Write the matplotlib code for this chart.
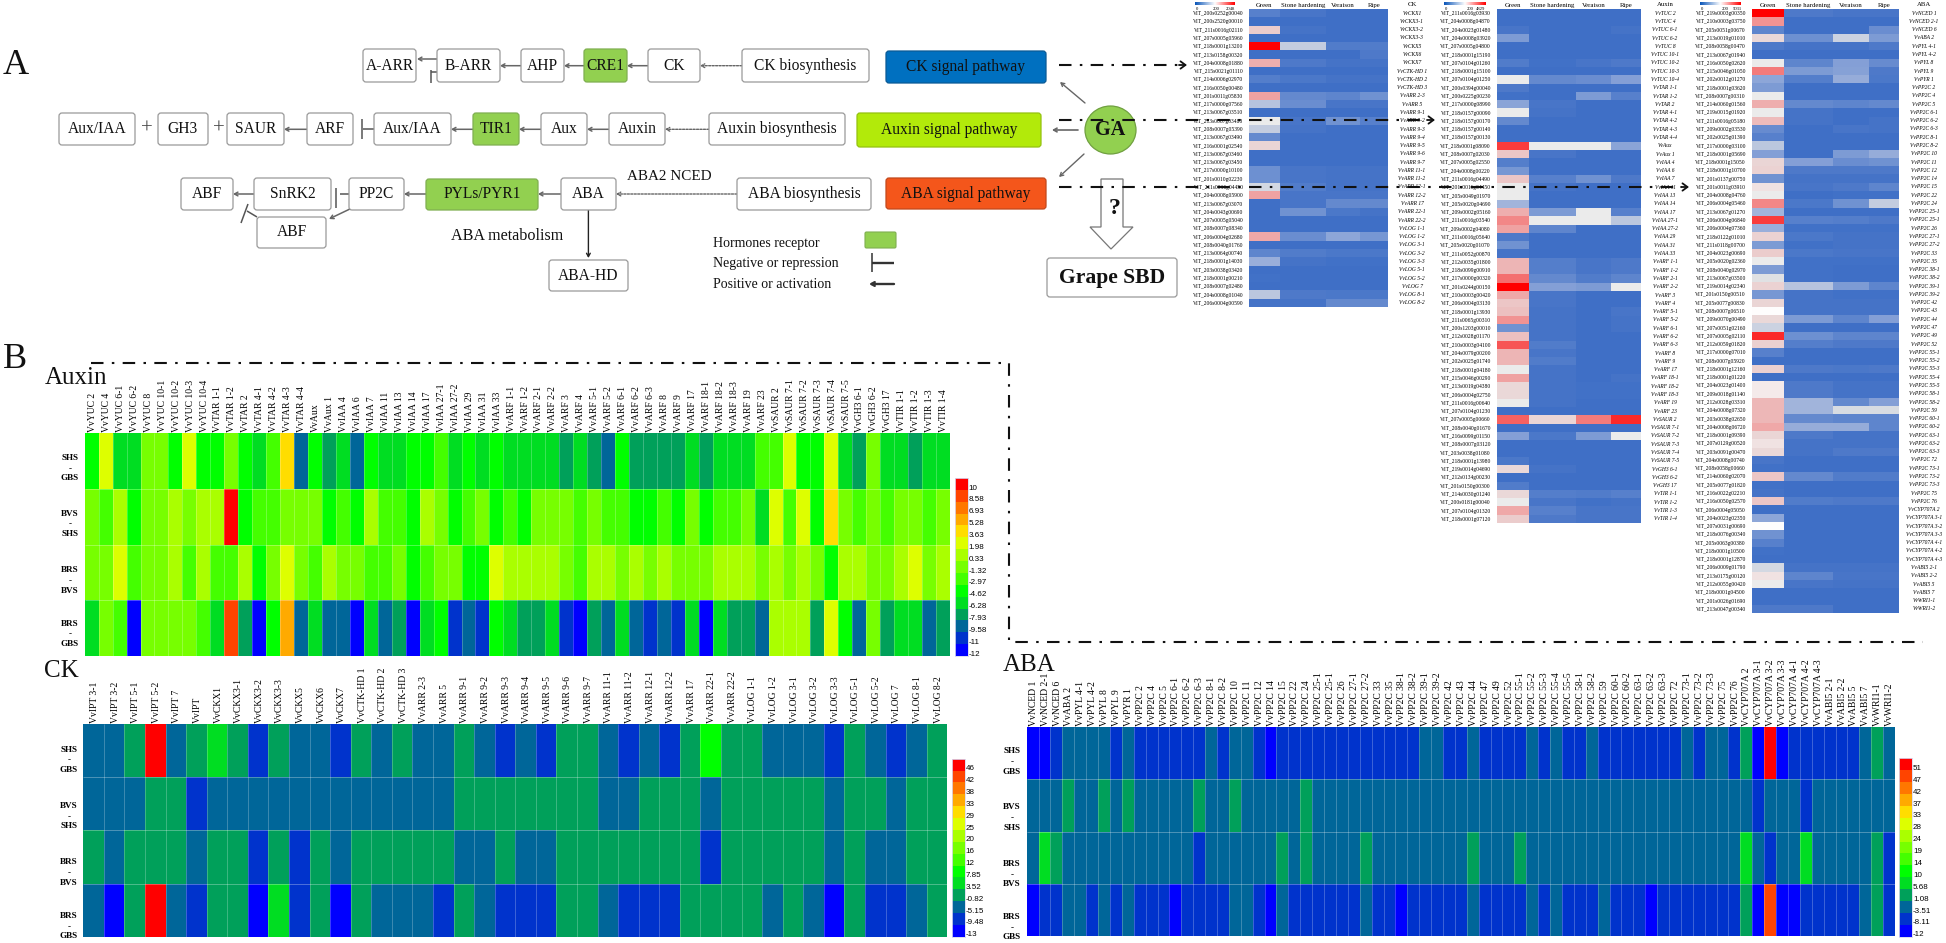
import numpy as np
import matplotlib
matplotlib.use("Agg")
import matplotlib.pyplot as plt
from matplotlib.colors import ListedColormap, LinearSegmentedColormap
from matplotlib.patches import FancyBboxPatch, Ellipse, Polygon

W, H = 1946, 943
plt.rcParams['font.family'] = ['Liberation Serif', 'DejaVu Serif']

# ------------------------- DATA: bottom heat maps (colour-key level 0..14) --------------------
comparisons = [("SHS", "GBS"), ("BVS", "SHS"), ("BRS", "BVS"), ("BRS", "GBS")]

auxin_genes = ["VvYUC 2","VvYUC 4","VvYUC 6-1","VvYUC 6-2","VvYUC 8","VvYUC 10-1","VvYUC 10-2","VvYUC 10-3","VvYUC 10-4",
 "VvTAR 1-1","VvTAR 1-2","VvTAR 2","VvTAR 4-1","VvTAR 4-2","VvTAR 4-3","VvTAR 4-4","VvAux","VvAux 1",
 "VvIAA 4","VvIAA 6","VvIAA 7","VvIAA 11","VvIAA 13","VvIAA 14","VvIAA 17","VvIAA 27-1","VvIAA 27-2","VvIAA 29","VvIAA 31","VvIAA 33",
 "VvARF 1-1","VvARF 1-2","VvARF 2-1","VvARF 2-2","VvARF 3","VvARF 4","VvARF 5-1","VvARF 5-2","VvARF 6-1","VvARF 6-2","VvARF 6-3","VvARF 8","VvARF 9","VvARF 17","VvARF 18-1","VvARF 18-2","VvARF 18-3","VvARF 19","VvARF 23",
 "VvSAUR 2","VvSAUR 7-1","VvSAUR 7-2","VvSAUR 7-3","VvSAUR 7-4","VvSAUR 7-5","VvGH3 6-1","VvGH3 6-2","VvGH3 17","VvTIR 1-1","VvTIR 1-2","VvTIR 1-3","VvTIR 1-4"]
auxin_shs_gbs = [5,9,4,4,7,7,5,9,5,5,7,5,4,6,10,2,5,3,4,2,5,4,4,5,5,6,4,5,4,5,4,4,4,4,3,4,3,2,5,3,3,3,3,4,3,4,4,4,6,6,9,5,5,9,4,3,7,4,4,3,4,4]
auxin_bvs_shs = [7,6,8,5,7,7,8,7,8,8,14,5,6,6,7,7,7,5,6,5,8,6,6,5,8,7,5,6,7,5,6,5,7,7,7,6,7,6,6,5,5,6,5,7,5,6,6,7,4,9,6,9,5,10,7,6,7,6,7,7,6,7]
auxin_brs_bvs = [7,7,9,6,7,7,8,6,8,6,6,8,5,7,9,7,6,8,7,7,6,6,7,5,6,7,7,5,5,9,8,8,8,8,7,6,8,8,7,8,7,8,7,7,7,8,8,8,7,8,7,8,7,5,8,8,7,7,8,9,7,8]
auxin_brs_gbs = [4,7,6,0,7,7,7,7,6,4,13,3,0,5,11,2,4,2,2,0,4,2,3,0,4,5,1,2,1,5,4,3,3,4,1,0,3,2,4,2,1,2,1,4,0,4,3,3,2,8,8,8,3,9,5,2,7,3,4,4,2,3]
auxin_key = ["10","8.58","6.93","5.28","3.63","1.98","0.33","-1.32","-2.97","-4.62","-6.28","-7.93","-9.58","-11","-12"]

ck_genes = ["VvIPT 3-1","VvIPT 3-2","VvIPT 5-1","VvIPT 5-2","VvIPT 7","VvIPT","VvCKX1","VvCKX3-1","VvCKX3-2","VvCKX3-3","VvCKX5","VvCKX6","VvCKX7",
 "VvCTK-HD 1","VvCTK-HD 2","VvCTK-HD 3","VvARR 2-3","VvARR 5","VvARR 9-1","VvARR 9-2","VvARR 9-3","VvARR 9-4","VvARR 9-5","VvARR 9-6","VvARR 9-7",
 "VvARR 11-1","VvARR 11-2","VvARR 12-1","VvARR 12-2","VvARR 17","VvARR 22-1","VvARR 22-2","VvLOG 1-1","VvLOG 1-2","VvLOG 3-1","VvLOG 3-2","VvLOG 3-3","VvLOG 5-1","VvLOG 5-2","VvLOG 7","VvLOG 8-1","VvLOG 8-2"]
ck_shs_gbs = [2,2,3,14,2,3,4,3,1,3,2,2,1,3,2,3,2,2,3,2,1,2,1,3,3,2,1,2,1,3,5,3,3,2,2,2,1,3,2,1,2,3]
ck_bvs_shs = [2,2,2,3,3,1,2,2,2,2,2,2,2,2,2,2,2,2,3,3,3,3,3,3,3,2,2,3,3,3,2,3,3,3,3,3,2,3,3,2,3,3]
ck_brs_bvs = [3,2,3,3,3,2,3,3,1,3,1,3,2,3,3,3,3,3,2,2,3,2,2,3,3,3,3,3,3,3,1,3,3,3,3,3,2,3,2,2,3,3]
ck_brs_gbs = [2,0,3,14,2,1,3,3,0,4,1,3,0,3,2,2,2,1,3,2,1,1,1,3,3,2,1,1,1,3,3,3,3,2,3,2,0,3,1,1,2,3]
ck_key = ["46","42","38","33","29","25","20","16","12","7.85","3.52","-0.82","-5.15","-9.48","-13"]

aba_genes = ["VvNCED 1","VvNCED 2-1","VvNCED 6","VvABA 2","VvPYL 4-1","VvPYL 4-2","VvPYL 8","VvPYL 9","VvPYR 1",
 "VvPP2C 2","VvPP2C 4","VvPP2C 5","VvPP2C 6-1","VvPP2C 6-2","VvPP2C 6-3","VvPP2C 8-1","VvPP2C 8-2","VvPP2C 10","VvPP2C 11","VvPP2C 12","VvPP2C 14","VvPP2C 15","VvPP2C 22","VvPP2C 24","VvPP2C 25-1","VvPP2C 25-1","VvPP2C 26","VvPP2C 27-1","VvPP2C 27-2","VvPP2C 33","VvPP2C 35","VvPP2C 38-1","VvPP2C 38-2","VvPP2C 39-1","VvPP2C 39-2","VvPP2C 42","VvPP2C 43","VvPP2C 44","VvPP2C 47","VvPP2C 49","VvPP2C 52","VvPP2C 55-1","VvPP2C 55-2","VvPP2C 55-3","VvPP2C 55-4","VvPP2C 55-5","VvPP2C 58-1","VvPP2C 58-2","VvPP2C 59","VvPP2C 60-1","VvPP2C 60-2","VvPP2C 63-1","VvPP2C 63-2","VvPP2C 63-3","VvPP2C 72","VvPP2C 73-1","VvPP2C 73-2","VvPP2C 73-3","VvPP2C 75","VvPP2C 76",
 "VvCYP707A 2","VvCYP707A 3-1","VvCYP707A 3-2","VvCYP707A 3-3","VvCYP707A 4-1","VvCYP707A 4-2","VvCYP707A 4-3","VvABI5 2-1","VvABI5 2-2","VvABI5 5","VvABI5 7","VvWRI1-1","VvWRI1-2"]
aba_shs_gbs = [0,0,1,2,2,2,2,1,2,1,1,1,1,1,1,2,1,2,2,1,0,1,1,1,1,1,1,1,1,1,1,1,1,2,2,1,1,2,1,1,1,1,2,1,2,1,1,2,1,1,1,1,1,1,1,2,1,2,2,1,3,0,14,0,1,1,1,1,1,1,2,3,2]
aba_bvs_shs = [2,2,2,3,2,2,3,2,3,2,2,2,2,2,3,2,2,3,2,2,2,2,2,3,2,2,2,2,2,2,2,2,2,2,2,2,2,2,2,2,2,2,2,2,2,2,2,2,2,2,2,2,2,2,2,2,2,2,2,2,2,1,2,2,2,1,2,2,2,2,2,2,2]
aba_brs_bvs = [2,4,3,2,2,2,2,2,2,2,2,2,2,2,1,2,2,2,2,2,2,3,2,3,2,2,2,2,3,2,2,2,2,2,2,2,2,3,2,2,2,3,2,2,2,2,2,2,2,2,2,2,2,2,2,2,2,2,2,2,4,2,1,2,2,4,2,2,2,2,2,3,1]
aba_brs_gbs = [0,1,1,2,2,1,2,1,2,1,1,1,0,1,1,1,1,2,2,1,0,2,1,1,1,1,1,1,2,1,1,0,1,1,1,1,1,2,1,1,1,1,2,1,2,1,1,1,2,1,1,1,0,1,1,1,1,1,1,1,3,0,13,0,0,1,1,1,1,1,2,3,1]
aba_key = ["51","47","42","37","33","28","24","19","14","10","5.68","1.08","-3.51","-8.11","-12"]

key_colors = ["#0000FF","#0033CC","#006699","#00A05A","#00DD22","#00FF00","#44FF00","#77FF00","#AAFF00","#DDFF00","#FFDD00","#FFAA00","#FF7700","#FF4400","#FF0000"]

# ------------------------- DATA: upper right FPKM heat maps (0..1 position on blue-white-red) ---
stages = ["Green", "Stone hardening", "Veraison", "Ripe"]

ck_ids = ["200s0252g00040","200s2520g00010","211s0016g02110","207s0005g05960","218s0001g13200","213s0158g00320","204s0008g01880","215s0021g01110","214s0006g02970","216s0050g00480","201s0011g05830","217s0000g07560","213s0067g03510","213s0067g03480","208s0007g05390","213s0067g03490","216s0001g02540","213s0067g03460","213s0067g03450","217s0000g10100","201s0010g02230","211s0016g04450","204s0008g05900","213s0067g03070","204s0043g00690","207s0005g05040","208s0007g08340","206s0004g02680","208s0040g01760","213s0064g00740","218s0001g14030","203s0038g03420","218s0001g00210","208s0007g02480","204s0008g01040","206s0004g00590"]
ck_green = [.08,0,.58,0,1.0,0,.68,0,.07,0,.72,.35,0,.47,.38,.12,.55,0,0,.15,.15,.42,.72,0,0,0,0,.7,0,.1,.28,0,.01,0,.36,.02]
ck_stone = [.03,0,.02,0,.38,0,.05,0,.04,0,.12,.14,0,.03,.02,0,0,0,0,.03,.03,.06,.03,.03,.16,0,0,.14,0,.06,.02,0,0,0,.05,.02]
ck_verai = [0,0,0,0,.06,0,.02,0,.02,0,.1,.03,0,.16,0,0,0,0,0,.02,.02,.02,.03,.12,.04,0,0,.25,0,.04,.01,0,0,0,.04,.12]
ck_ripe  = [0,0,0,0,.06,.05,.02,0,.02,0,.16,.03,0,.08,0,0,0,0,0,.02,.02,.02,.03,.12,.02,0,0,.18,0,.04,.01,0,0,0,.04,.12]
ck_names = ck_genes[6:]

aux_ids = ["211s0016g03930","204s0008g04870","204s0023g01480","204s0008g03920","207s0005g04800","218s0001g15190","207s0104g01260","218s0001g15100","207s0104g01250","200s0394g00040","200s0225g00230","217s0000g08990","218s0157g00090","218s0157g00170","218s0157g00140","218s0157g00130","218s0001g08090","208s0007g02030","207s0005g02550","204s0008g00220","211s0016g04490","201s0011g04450","205s0049g01970","205s0020g04690","209s0002g05160","211s0016g03540","209s0002g04080","211s0016g05640","205s0020g01070","211s0052g00870","212s0035g01800","218s0099g00910","217s0000g00320","201s0244g00150","210s0003g00420","206s0004g03130","218s0001g13930","211s0065g00310","200s1203g00010","212s0028g01170","210s0003g04100","204s0079g00200","202s0025g01740","218s0001g04180","215s0046g00290","213s0019g04380","206s0004g02750","211s0016g00640","207s0104g01230","207s0005g00660","208s0040g01670","216s0099g01150","208s0007g03120","203s0038g01080","218s0001g13980","219s0014g04690","212s0134g00230","201s0150g00300","214s0030g01240","200s0181g00040","207s0104g01320","218s0001g07120"]
aux_green = [0,0,.03,.2,0,0,.06,0,.47,.05,.01,.24,.47,.12,0,0,.9,.6,.07,.18,.6,.47,.47,.3,.68,.78,.72,.05,.16,.02,.66,.66,.82,1.0,.7,.6,.62,.76,.16,.62,.86,.66,.66,.47,.72,.54,.54,.47,0,.84,0,.22,0,0,.04,.54,0,.06,.54,.47,.7,.58]
aux_stone = [0,0,0,0,0,0,.01,0,.12,0,0,.03,.02,0,0,0,.47,.03,0,0,.08,.02,0,0,.2,.47,.1,0,0,0,.07,.07,.12,.22,.03,.03,.02,.02,.02,.02,.06,.03,.06,.02,.02,.02,.02,.02,0,.55,0,.04,0,0,0,.02,0,0,.07,.03,.08,.05]
aux_verai = [0,0,0,0,0,0,.03,0,.14,0,.2,0,0,0,0,0,.47,0,0,0,.16,0,0,0,.47,.47,0,0,0,0,.03,.03,.06,.2,0,0,0,0,0,0,0,0,0,0,0,.01,.01,0,0,.8,0,.2,0,0,0,0,0,0,.06,.01,.03,.03]
aux_ripe  = [0,0,.02,0,0,0,.05,0,.22,0,.08,0,0,0,0,0,.24,0,0,0,.05,0,0,0,.08,.36,0,0,0,0,.05,.05,.1,.47,0,0,.03,.02,.02,0,0,0,0,0,.02,.01,.01,0,0,.93,0,.47,0,0,0,0,0,0,.08,.02,.03,.03]
aux_names = [g.replace("YUC", "TUC") for g in auxin_genes]

aba_ids = ["219s0003g00350","210s0003g03750","205s0051g00670","213s0019g01010","208s0058g00470","213s0067g01940","216s0050g02620","215s0046g01050","202s0012g01270","218s0001g03620","208s0007g00310","214s0060g01560","219s0015g01920","211s0016g05180","209s0002g03530","202s0025g01390","217s0000g03100","218s0001g05690","218s0001g15050","218s0001g10700","201s0137g00750","201s0011g03910","204s0008g04760","206s0004g05460","213s0067g01270","206s0004g06840","206s0004g07360","218s0122g01010","211s0118g00700","204s0023g00690","205s0020g02360","208s0040g02970","213s0067g03500","219s0014g02340","201s0150g00510","205s0077g00830","208s0007g06510","209s0070g00490","207s0051g02160","207s0005g02110","212s0059g01820","217s0000g07010","208s0007g05920","218s0001g12160","218s0001g01220","204s0023g01400","209s0018g01140","212s0028g03310","204s0008g07320","203s0038g02650","204s0008g06720","218s0001g09390","207s0129g00520","203s0091g00470","204s0008g00740","208s0058g00660","214s0060g02070","205s0077g01820","216s0022g02210","216s0050g02570","206s0004g05050","204s0023g02350","207s0031g00690","218s0076g00340","205s0063g00380","218s0001g10500","218s0001g12870","206s0009g01790","213s0175g00120","212s0055g00420","218s0001g04500","201s0026g01690","213s0047g00340"]
aba_green = [1.0,.76,.1,.54,.05,0,.47,.8,.25,.2,.47,.68,.47,.64,.13,.08,.36,.22,.55,.56,.16,.53,.47,.78,.3,.9,.28,.56,.2,.58,.47,.2,.45,.56,.18,.55,.5,.54,.4,.93,.57,.08,0,.57,0,.52,.52,.65,.65,.65,.7,.55,.53,.54,.03,.01,.6,.01,.02,.6,0,.25,.5,.16,.08,.01,0,.42,.53,.47,0,0,.05]
aba_stone = [.05,0,0,.15,.02,0,.1,.2,.07,0,0,.12,.02,.02,0,0,0,0,.22,.05,.02,.03,0,.04,0,.08,.01,.04,.01,.04,.01,.01,.01,.35,.02,.02,.02,.2,0,.15,.07,0,0,.05,0,.05,.05,.3,.3,.12,.27,.05,.02,.02,0,0,.12,0,0,.06,0,0,0,0,0,0,0,.02,.1,.03,0,0,.05]
aba_verai = [.03,0,0,.4,.02,0,.22,.23,.27,0,0,.1,0,0,.03,0,0,.2,.14,.05,.02,.05,.01,.16,0,.07,.01,.02,.02,.03,.01,0,0,.2,.01,.02,.02,.1,0,.1,.05,0,0,.04,0,.02,.02,.12,.43,.1,.27,.02,.02,.05,0,0,.06,0,0,.05,0,0,0,0,0,0,0,.02,.03,.02,0,0,0]
aba_ripe  = [.03,0,.14,.2,.05,0,.13,.05,.04,0,0,.12,0,.02,.02,0,0,.27,.16,.05,.02,.1,.01,.38,0,.05,.01,.02,.02,.03,.01,0,0,.1,.01,.02,.02,.22,0,.1,.05,0,0,.05,0,.02,.02,.22,.43,.1,.1,.02,.02,.05,0,0,.06,0,0,.05,0,0,0,0,0,0,0,.02,.03,.02,0,0,0]
aba_names = aba_genes

fpkm_scale_ck, fpkm_scale_aux, fpkm_scale_aba = ["0","200","2048"], ["0","200","4829"], ["0","200","5031"]

# ------------------------- helpers ------------------------------------------------------------
fig = plt.figure(figsize=(W/100, H/100), dpi=100, facecolor="white")

def px_axes(x0, y0, x1, y1, **kw):
    return fig.add_axes([x0/W, 1-y1/H, (x1-x0)/W, (y1-y0)/H], **kw)

level_cmap = ListedColormap(key_colors)
fpkm_cmap = LinearSegmentedColormap.from_list("fpkm", [(0, "#3F6FC6"), (.25, "#8DA6D8"), (.46, "#E4E4E4"), (.5, "#FFFFFF"),
                                                       (.54, "#EAD8D8"), (.75, "#F09A9A"), (1, "#FF0000")])
SERIF = "Liberation Serif"

def level_heat(box, rows, genes, key, keybox, lab_x, lab_ys, fs=6.9):
    ax = px_axes(*box)
    data = np.array(rows)
    ax.pcolormesh(data, cmap=level_cmap, vmin=-.5, vmax=14.5)
    ax.set_xlim(0, data.shape[1]); ax.set_ylim(data.shape[0], 0)
    ax.vlines(np.arange(1, data.shape[1]), 0, data.shape[0], color="white", alpha=.28, lw=.6)
    ax.hlines(np.arange(1, data.shape[0]), 0, data.shape[1], color="white", alpha=.35, lw=.6)
    ax.xaxis.tick_top()
    ax.set_xticks(np.arange(data.shape[1]) + .55, genes, rotation=90, fontsize=fs, family=SERIF, color="black", va="bottom", ha="center")
    ax.set_yticks([])
    ax.tick_params(length=0, pad=.6)
    for s in ax.spines.values():
        s.set_visible(False)
    k = px_axes(*keybox)
    levels = np.arange(15)[::-1].reshape(-1, 1)
    k.pcolormesh(levels, cmap=level_cmap, vmin=-.5, vmax=14.5)
    k.set_ylim(15, 0); k.set_xlim(0, 1)
    k.set_xticks([])
    k.yaxis.tick_right()
    k.set_yticks(np.arange(15) + .76, key, fontsize=5.8, family="Liberation Sans", color="black")
    k.tick_params(length=0, pad=.5)
    for s in k.spines.values():
        s.set_color("#D8D8F0"); s.set_linewidth(.6)
    for (a, b), (y0, y1, y2) in zip(comparisons, lab_ys):
        for y, t in ((y0, a), (y1, "-"), (y2, b)):
            ov.text(lab_x, y, t, fontsize=6.6, fontweight="bold", ha="center", va="center", color="black")

def fpkm_heat(edges, y0, y1, cols, ids, names, names_x, title, bar, bar_labels, bar_label_x):
    ax = px_axes(edges[0], y0, edges[-1], y1)
    data = np.array(cols).T
    ax.pcolormesh(np.array(edges), np.arange(data.shape[0] + 1), data, cmap=fpkm_cmap, vmin=0, vmax=1)
    ax.set_ylim(data.shape[0], 0)
    ax.xaxis.tick_top()
    ax.set_xticks((np.array(edges[:-1]) + np.array(edges[1:])) / 2, stages, fontsize=4.9, family=SERIF, color="black")
    ax.set_yticks(np.arange(data.shape[0]) + .5, ["VIT_" + i for i in ids], fontsize=4.0, family=SERIF, color="black")
    ax.tick_params(length=0, pad=.5, axis="x")
    ax.tick_params(length=0, pad=4, axis="y")
    for s in ax.spines.values():
        s.set_visible(False)
    for i, n in enumerate(names):
        ov.text(names_x, y0 + (i + .5) * (y1 - y0) / data.shape[0], n, fontsize=4.0, style="italic", ha="center", va="center", color="black")
    ov.text(names_x, 5, title, fontsize=4.9, ha="center", va="center", color="black")
    c = px_axes(*bar)
    c.imshow(np.linspace(0, 1, 128).reshape(1, -1), cmap=LinearSegmentedColormap.from_list("b", ["#0A55B8", "#FFFFFF", "#FF0000"]), aspect="auto")
    c.axis("off")
    for x, t in zip(bar_label_x, bar_labels):
        ov.text(x, 9, t, fontsize=3.4, ha="center", va="center", color="black")

def box(x0, y0, x1, y1, text="", fc="white", ec="#9A9A9A", fs=11.2, lw=.9, **kw):
    ov.add_patch(FancyBboxPatch((x0 + 2, y0 + 2), x1 - x0 - 4, y1 - y0 - 4, boxstyle="round,pad=2,rounding_size=3", fc=fc, ec=ec, lw=lw, zorder=3))
    ov.text((x0 + x1) / 2, (y0 + y1) / 2, text, fontsize=fs, ha="center", va="center", color="#111111", zorder=4, **kw)

def arrow(x0, y0, x1, y1, color="#666666", lw=1.1, ls="-", ms=6):
    ov.annotate("", xy=(x1, y1), xytext=(x0, y0), zorder=2,
                arrowprops=dict(arrowstyle="->,head_length=.25,head_width=.14", color=color, lw=lw, ls=ls, shrinkA=0, shrinkB=0, mutation_scale=ms*1.6))

def seg(xs, ys, color="#555555", lw=1.1, **kw):
    ov.plot(xs, ys, color=color, lw=lw, solid_capstyle="butt", zorder=2, **kw)

# overlay in pixel coordinates, on top of all heat maps
ov = fig.add_axes([0, 0, 1, 1], zorder=10, facecolor="none")
ov.set_xlim(0, W); ov.set_ylim(H, 0); ov.axis("off")

# ------------------------- panel B ------------------------------------------------------------
level_heat((84.7, 433.3, 950, 655.7), [auxin_shs_gbs, auxin_bvs_shs, auxin_brs_bvs, auxin_brs_gbs], auxin_genes, auxin_key,
           (955, 478, 967.7, 656), 70, [(457.7, 468.7, 478), (513.7, 524, 534), (570, 581, 591), (623.7, 634, 644)])
level_heat((83.3, 724, 947.3, 936.7), [ck_shs_gbs, ck_bvs_shs, ck_brs_bvs, ck_brs_gbs], ck_genes, ck_key,
           (952, 758.7, 965, 936.7), 69, [(749.7, 760.3, 770), (805.7, 816.7, 826.3), (862.3, 873.3, 882.7), (915.7, 926.7, 936)])
level_heat((1026.7, 727.3, 1895, 936), [aba_shs_gbs, aba_bvs_shs, aba_brs_bvs, aba_brs_gbs], aba_genes, aba_key,
           (1899.3, 758.3, 1912.3, 936.7), 1012, [(751, 761.7, 771.7), (807, 818, 827.7), (863.7, 874.7, 884), (917, 927.7, 937.3)])

ov.text(45, 378, "Auxin", fontsize=18, ha="left", va="center", color="#111111")
ov.text(44, 671, "CK", fontsize=18, ha="left", va="center", color="#111111")
ov.text(1003, 665, "ABA", fontsize=18, ha="left", va="center", color="#111111")
ov.text(3, 65, "A", fontsize=26, ha="left", va="center", color="#111111")
ov.text(3, 360, "B", fontsize=26, ha="left", va="center", color="#111111")

dd = dict(color="#111111", lw=1.5, ls=(0, (6, 4, 1.2, 4)), zorder=6)
ov.plot([91, 1009, 1009, 1923], [363, 363, 641.7, 641.7], **dd)

# ------------------------- upper right heat maps ----------------------------------------------
fpkm_heat([1249, 1280, 1326, 1360, 1388], 9, 307, [ck_green, ck_stone, ck_verai, ck_ripe], ck_ids, ck_names, 1412, "CK",
          (1195, 2.3, 1235, 5.3), fpkm_scale_ck, (1197, 1216, 1230))
fpkm_heat([1496.5, 1528.6, 1576, 1611, 1641], 9, 523, [aux_green, aux_stone, aux_verai, aux_ripe], aux_ids, aux_names, 1665, "Auxin",
          (1443.5, 2.3, 1485, 5.3), fpkm_scale_aux, (1446, 1470, 1481))
fpkm_heat([1751.5, 1784, 1833, 1868.6, 1899], 9, 613, [aba_green, aba_stone, aba_verai, aba_ripe], aba_ids, aba_names, 1924, "ABA",
          (1700, 2.3, 1741, 5.3), fpkm_scale_aba, (1702, 1725, 1737))

# ------------------------- panel A pathway ----------------------------------------------------
g = "#92D050"
box(363, 49, 416, 82, "A-ARR"); box(437, 49, 500, 82, "B-ARR"); box(521, 49, 564, 82, "AHP"); box(584, 49, 627, 82, "CRE1", fc=g, ec="#7FAF50")
box(648, 49, 700, 82, "CK"); box(742, 49, 869, 82, "CK biosynthesis")
box(886, 51, 1046, 83, "CK signal pathway", fc="#0070C0", ec="#0A5A96")
box(59, 113, 135, 145, "Aux/IAA"); box(158, 113, 208, 145, "GH3"); box(227, 113, 284, 145, "SAUR"); box(307, 113, 353, 145, "ARF")
box(374, 113, 451, 145, "Aux/IAA"); box(473, 113, 519, 145, "TIR1", fc=g, ec="#7FAF50"); box(541, 113, 587, 145, "Aux"); box(609, 113, 665, 145, "Auxin")
box(709, 113, 845, 145, "Auxin biosynthesis"); box(857, 113, 1041, 147, "Auxin signal pathway", fc="#B2EA0A", ec="#94C210")
box(181, 178, 233, 210, "ABF"); box(254, 178, 331, 210, "SnRK2"); box(349, 178, 404, 210, "PP2C"); box(426, 179, 538, 210, "PYLs/PYR1", fc=g, ec="#7FAF50")
box(561, 178, 616, 210, "ABA"); box(737, 178, 871, 210, "ABA biosynthesis"); box(886, 178, 1046, 209, "ABA signal pathway", fc="#F4561B", ec="#C2481C")
box(257, 217, 326, 248, "ABF"); box(549, 260, 628, 291, "ABA-HD")
box(1047, 258, 1177, 297, "Grape SBD", fs=15.6, fontweight="bold")

for y, pairs in [(65.7, [(521, 500), (584, 564), (648, 627)]), (129.3, [(609, 587), (541, 519), (473, 451), (307, 284)]), (194, [(561, 538), (426, 404), (254, 233)])]:
    for x0, x1 in pairs:
        arrow(x0, y, x1, y)
for y, x0, x1 in [(65.7, 742, 700), (129.3, 709, 665), (194, 737, 616)]:
    arrow(x0, y, x1, y, ls=(0, (1.5, 1)), lw=1)
arrow(437, 59, 417, 59)
seg([437, 431], [72, 72]); seg([431, 431], [70, 83])
seg([374, 363], [129, 129]); seg([362, 362], [119, 139])
seg([349, 340], [194, 194]); seg([336, 336], [188, 208])
arrow(352, 208, 329, 219)
seg([257, 247], [217, 211]); seg([248, 241], [204, 223])
arrow(588.4, 210, 588.4, 258, color="#222222", lw=1)
ov.text(219, 129, "+", fontsize=15, ha="center", va="center", color="#444444")
ov.text(147, 129, "+", fontsize=15, ha="center", va="center", color="#444444")

ov.add_patch(Ellipse((1110.5, 130), 51, 48, fc=g, ec="#70A040", lw=.9, zorder=3))
ov.text(1110.5, 130, "GA", fontsize=14.5, fontweight="bold", ha="center", va="center", zorder=4, color="#111111")
arrow(1085, 103, 1060, 82, lw=1); arrow(1078, 130, 1052, 130, lw=1.2); arrow(1084, 154, 1059, 177, lw=1)

ov.add_patch(Polygon([(1101, 179), (1123, 179), (1123, 227), (1133, 227), (1111, 249), (1090, 227), (1101, 227)], closed=True, fc="white", ec="#777777", lw=.9, zorder=5))
ov.text(1114, 209, "?", fontsize=17, fontweight="bold", ha="center", va="center", zorder=6, color="#111111")

ov.text(627, 177, "ABA2 NCED", fontsize=10.9, ha="left", va="center", color="#111111")
ov.text(451, 236, "ABA metabolism", fontsize=11.6, ha="left", va="center", color="#111111")
ov.text(713, 244, "Hormones receptor", fontsize=10, ha="left", va="center", color="#111111")
ov.text(713, 263, "Negative or repression", fontsize=10, ha="left", va="center", color="#111111")
ov.text(713, 284, "Positive or activation", fontsize=10, ha="left", va="center", color="#111111")
ov.add_patch(FancyBboxPatch((866, 233), 29, 14, boxstyle="round,pad=1,rounding_size=1.5", fc=g, ec="#7FAF50", lw=.8))
seg([872, 872], [253, 272], color="#333333", lw=1.1); seg([872, 894], [263, 263], color="#333333", lw=1.7)
arrow(894, 284, 869, 284, color="#333333", lw=1.7)

# dash-dot links from the pathways to their heat maps
ov.plot([1059, 1181], [65, 65], **dd)
ov.plot([1059, 1428], [120, 120], **dd)
ov.plot([1059, 1682], [187, 187], **dd)
for x, y in [(1187, 65), (1435, 120), (1689, 187)]:
    ov.annotate("", xy=(x, y), xytext=(x - 8, y), arrowprops=dict(arrowstyle="->,head_length=.3,head_width=.22", color="#111111", lw=1.3, shrinkA=0, shrinkB=0, mutation_scale=12), zorder=6)

fig.savefig("out.png", dpi=100, facecolor="white")
